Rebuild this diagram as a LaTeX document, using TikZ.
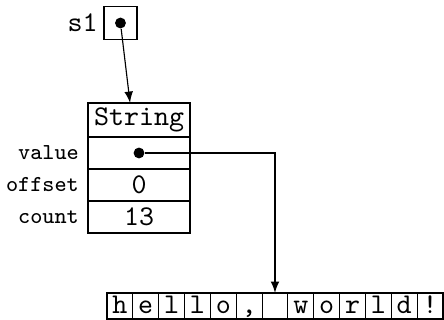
\documentclass[tikz,border=0pt]{standalone}
\usepackage{tikz}
\usetikzlibrary{positioning}
\usetikzlibrary{arrows}

\begin{document}
\begin{tikzpicture}[>=latex, font=\ttfamily]

                \tikzstyle{field} = [draw, minimum width=1.255cm, minimum height=0.394cm, inner sep=0pt, outer sep=0pt]
                \tikzstyle{cell}  = [draw, minimum width=0.318cm, minimum height=0.32cm, inner sep=0pt, outer sep=0pt, text height=1.6ex, text depth=0.3ex]
                \tikzstyle{lbl}   = [font=\ttfamily\footnotesize, inner sep=3pt]
                \tikzstyle{dot}   = [circle, fill, inner sep=0pt, minimum size=3.8pt]

                \useasboundingbox (0,0) rectangle (5.462,-3.936);

                % the variable s1
                \node [draw, minimum size=0.406cm, inner sep=0pt, outer sep=0pt](s1) at (1.482,-0.283) {};
                \node [left=0pt of s1, inner sep=2pt](s1name) {s1};
                \node [dot](s1dot) at (s1) {};

                % the String object and its fields
                \node [field, minimum height=0.418cm](obj) at (1.710,-1.476) {String};
                \node [field, below=0pt of obj](value) {};
                \node [field, below=0pt of value](offset) {0};
                \node [field, below=0pt of offset](count) {13};
                \node [dot](vdot) at (value) {};

                \foreach \f in {value, offset, count}
                {
                        \node [lbl, left=0pt of \f](\f-name) {\f};
                }

                % the char array
                \foreach \ch [count=\i from 0] in {h,e,l,l,o,{,},{},w,o,r,l,d,!}
                {
                        \node [cell](c\i) at ({1.316+0.318*(\i+0.5)},-3.764) {\ch};
                }

                \draw [->] (s1dot) -- ([xshift=-0.11cm]obj.north);
                \draw [->] (vdot) -| (c6.north);
\end{tikzpicture}
\end{document}
